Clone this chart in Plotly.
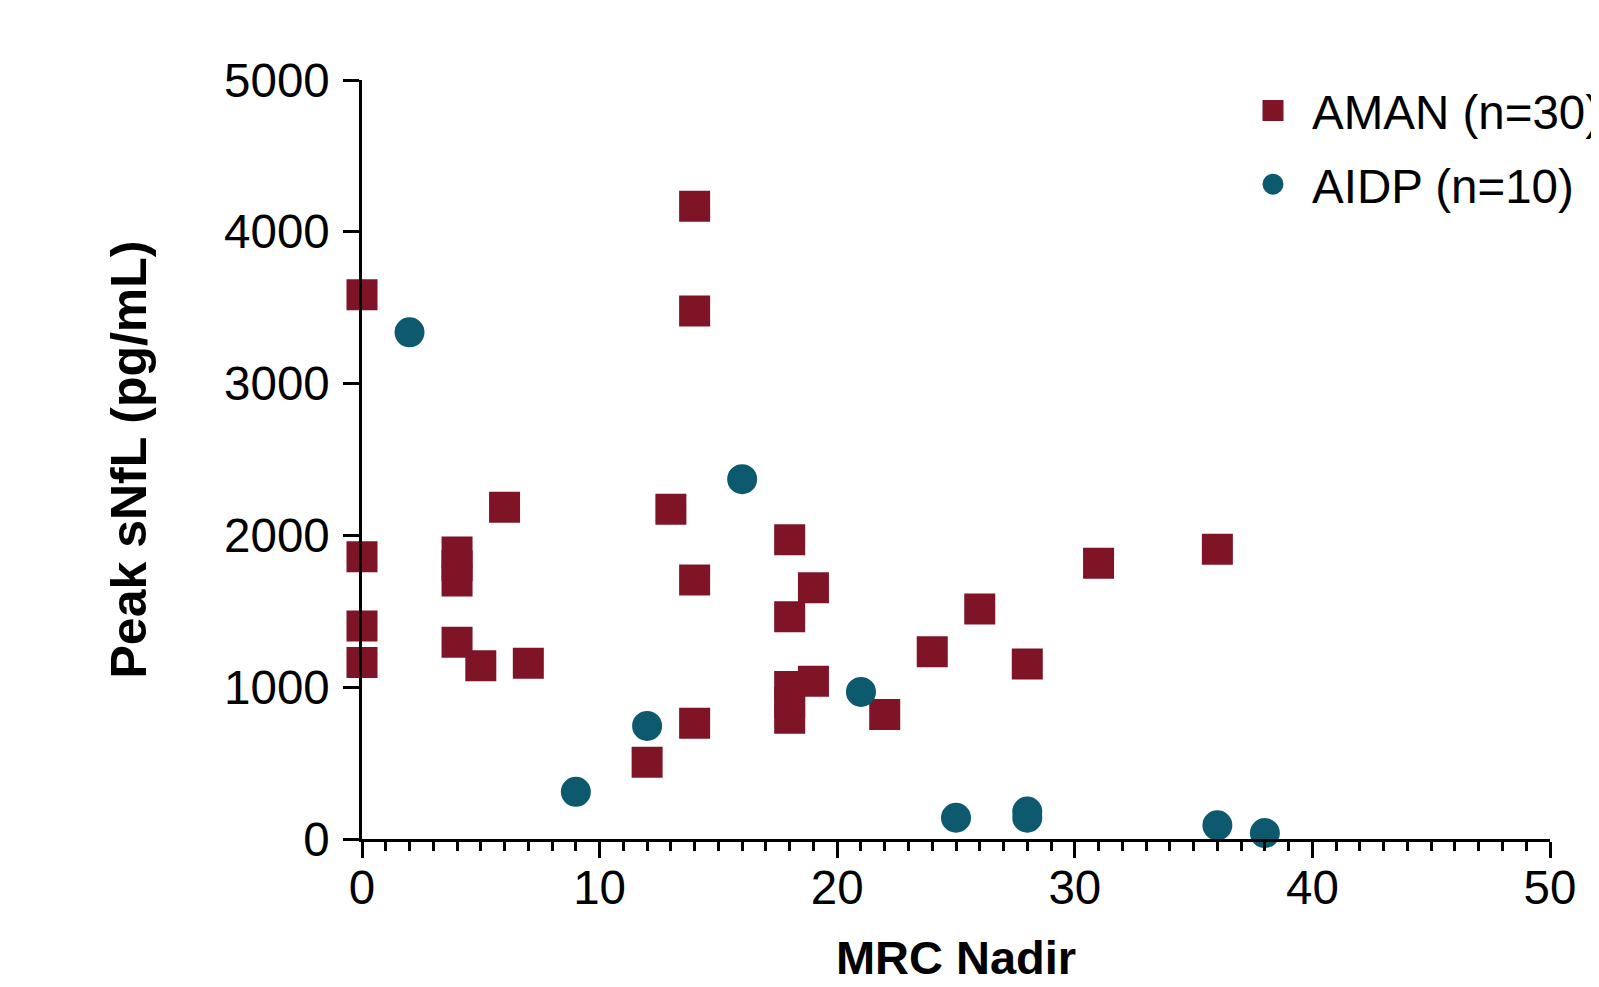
import plotly.graph_objects as go

# ---- data ----
aman_x = [0, 0, 0, 0, 4, 4, 4, 4, 5, 6, 7, 12, 13, 14, 14, 14, 14, 18, 18, 18, 18, 18, 19, 19, 22, 24, 26, 28, 31, 36]
aman_y = [3586, 1859, 1403, 1162, 1890, 1800, 1700, 1296, 1142, 2186, 1158, 506, 2173, 4168, 3478, 1706, 763,
          1972, 1464, 1004, 900, 796, 1655, 1039, 820, 1234, 1515, 1153, 1816, 1908]
aidp_x = [2, 9, 12, 16, 21, 25, 28, 28, 36, 38]
aidp_y = [3338, 311, 745, 2370, 969, 140, 181, 140, 90, 39]

series_names = ["AMAN (n=30)", "AIDP (n=10)"]
x_ticks = [0, 10, 20, 30, 40, 50]
y_ticks = [0, 1000, 2000, 3000, 4000, 5000]

FONT = "Arial, Liberation Sans, sans-serif"
MAROON = "#7E1426"
TEAL = "#0D596D"
TICK_SIZE = 47.5

fig = go.Figure()
fig.add_trace(go.Scatter(
    x=aman_x, y=aman_y, mode="markers", name=series_names[0], legendgroup="a",
    marker=dict(symbol="square", size=26, color=MAROON, line=dict(width=5, color=MAROON)),
    cliponaxis=False,
))
fig.add_trace(go.Scatter(
    x=aidp_x, y=aidp_y, mode="markers", name=series_names[1], legendgroup="b",
    marker=dict(symbol="circle", size=25, color=TEAL, line=dict(width=5, color=TEAL)),
    cliponaxis=False,
))

# page body adds an 8px offset, so margins are shifted to compensate
fig.update_layout(
    width=1599, height=987,
    margin=dict(l=354, r=57, t=72, b=156, autoexpand=False),
    paper_bgcolor="white", plot_bgcolor="white",
    font=dict(family=FONT, color="black", size=TICK_SIZE),
    showlegend=True,
    legend=dict(
        x=(1234 - 362) / 1188, xanchor="left",
        y=1 + (80 - 73) / 759, yanchor="top",
        font=dict(size=TICK_SIZE, family=FONT, color="black"),
        itemwidth=68, tracegroupgap=9,
        bgcolor="rgba(0,0,0,0)", borderwidth=0,
    ),
    xaxis=dict(
        range=[0, 50], tickvals=x_ticks, ticktext=[str(v) for v in x_ticks],
        showline=True, linecolor="black", linewidth=2.5,
        ticks="outside", ticklen=16, tickwidth=2.5, tickcolor="black",
        minor=dict(dtick=1, ticks="outside", ticklen=9, tickwidth=2.5, tickcolor="black", showgrid=False),
        showgrid=False, zeroline=False,
        tickfont=dict(size=TICK_SIZE, family=FONT, color="black"),
        ticklabelstandoff=-11,
        title=dict(text="<b>MRC Nadir</b>", font=dict(size=47, family=FONT, color="black"), standoff=29),
    ),
    yaxis=dict(
        range=[0, 5000], tickvals=y_ticks, ticktext=[str(v) for v in y_ticks],
        showline=True, linecolor="black", linewidth=2.5,
        ticks="outside", ticklen=16, tickwidth=2.5, tickcolor="black",
        showgrid=False, zeroline=False,
        tickfont=dict(size=TICK_SIZE, family=FONT, color="black"),
        ticklabelstandoff=4,
        title=dict(text="<b>Peak sNfL (pg/mL)</b>", font=dict(size=50, family=FONT, color="black"), standoff=62),
    ),
)

fig.write_html("out.html")
